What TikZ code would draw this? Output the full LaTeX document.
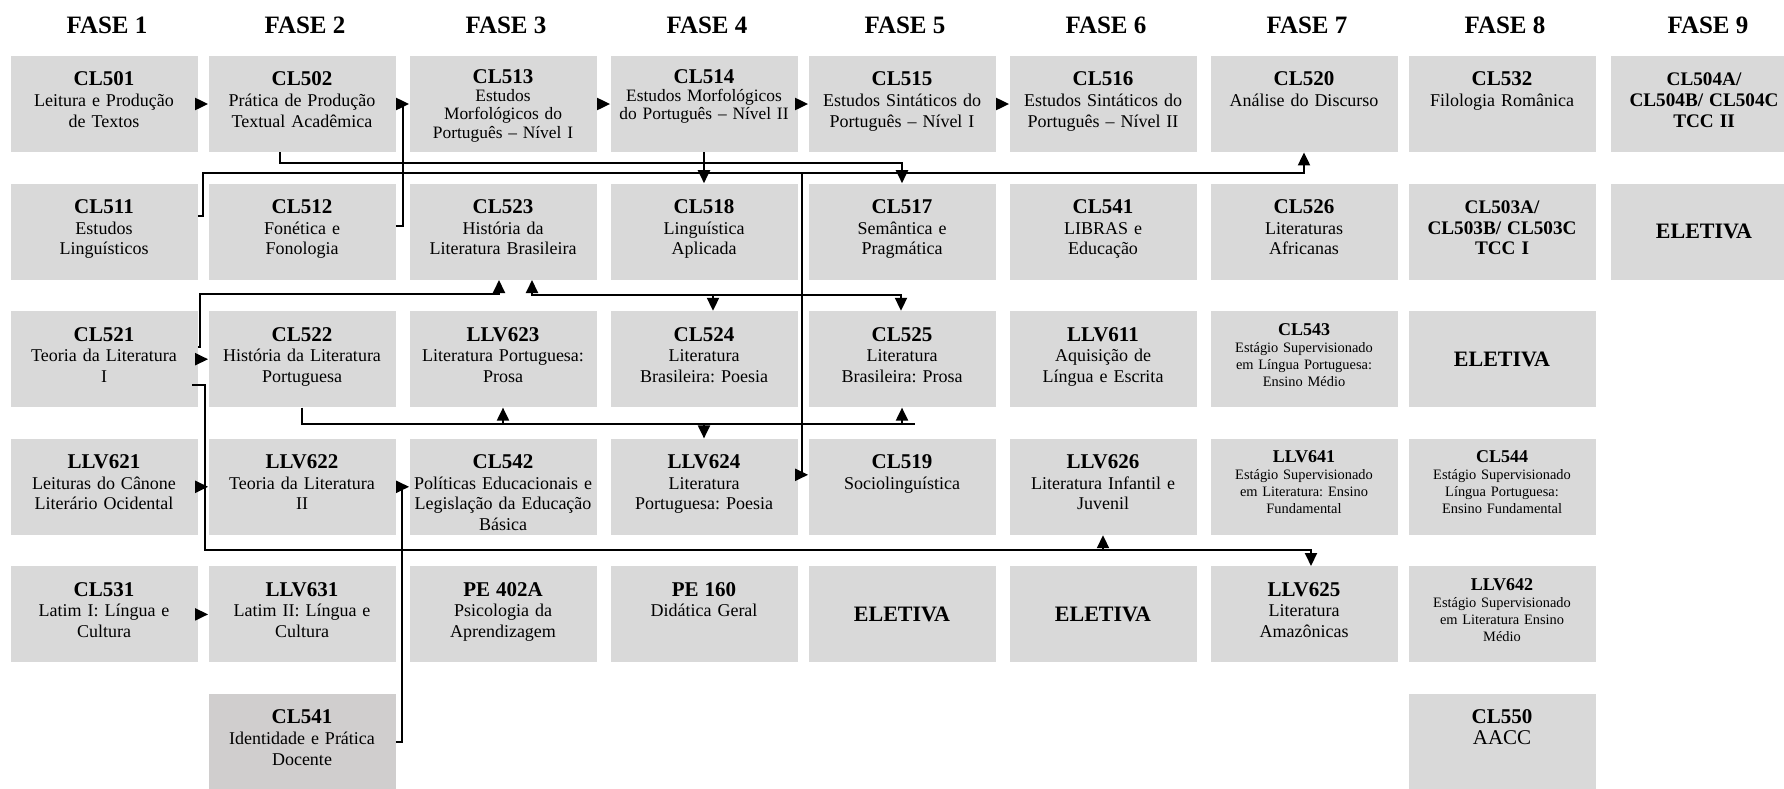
\documentclass[tikz,border=0pt]{standalone}
\usepackage{fontspec}
\setmainfont{Liberation Serif}
\usetikzlibrary{arrows.meta}
\definecolor{boxgray}{HTML}{D9D9D9}
\definecolor{boxgrayb}{HTML}{D0CECE}
\newcommand{\cod}[1]{{\fontsize{10.5}{10.3}\selectfont\bfseries #1}}
\newcommand{\codsm}[1]{{\fontsize{9}{8.5}\selectfont\bfseries #1}}
\newcommand{\codtcc}[1]{{\fontsize{9.6}{10.3}\selectfont\bfseries #1}}
\frenchspacing

\begin{document}
\begin{tikzpicture}[x=0.5pt,y=-0.5pt]
    \tikzstyle{every node}+=[inner sep=0pt]
    \tikzstyle{course}=[fill=boxgray, text width=92pt, align=center, inner xsep=0.75pt, text height=14.9pt, text depth=33.1pt, font=\fontsize{9}{10.3}\selectfont]
    \tikzstyle{smallcourse}=[course, font=\fontsize{7.2}{8.5}\selectfont, text height=12pt, text depth=36pt]
    \tikzstyle{tightcourse}=[course, font=\fontsize{8.7}{9.2}\selectfont, text height=13.5pt, text depth=34.5pt]
    \tikzstyle{eletiva}=[fill=boxgray, minimum width=93.5pt, minimum height=48pt, font=\fontsize{11}{12}\selectfont\bfseries]
    \tikzstyle{fase}=[anchor=base, font=\fontsize{12.5}{14}\selectfont\bfseries]
    \tikzstyle{link}=[line width=1pt]
    \tikzstyle{arr}=[link, -{Triangle[length=6.5pt,width=6pt]}]
    \tikzstyle{arrs}=[link, {Triangle[length=6.5pt,width=6pt]}-{Triangle[length=6.5pt,width=6pt]}]
    \useasboundingbox (0,0) rectangle (1784,788);

    % fases
    \node[fase] (f1) at (107,33) {FASE 1};
    \node[fase] (f2) at (305,33) {FASE 2};
    \node[fase] (f3) at (506,33) {FASE 3};
    \node[fase] (f4) at (707,33) {FASE 4};
    \node[fase] (f5) at (905,33) {FASE 5};
    \node[fase] (f6) at (1106,33) {FASE 6};
    \node[fase] (f7) at (1307,33) {FASE 7};
    \node[fase] (f8) at (1505,33) {FASE 8};
    \node[fase] (f9) at (1708,33) {FASE 9};

    % linha 1
    \node[course] (cl501) at (104,104) {\cod{CL501}\\Leitura e Produção\\de Textos};
    \node[course] (cl502) at (302,104) {\cod{CL502}\\Prática de Produção\\Textual Acadêmica};
    \node[tightcourse] (cl513) at (503,104) {\cod{CL513}\\Estudos\\Morfológicos do\\Português – Nível I};
    \node[tightcourse] (cl514) at (704,104) {\cod{CL514}\\Estudos Morfológicos\\do Português – Nível II};
    \node[course] (cl515) at (902,104) {\cod{CL515}\\Estudos Sintáticos do\\Português – Nível I};
    \node[course] (cl516) at (1103,104) {\cod{CL516}\\Estudos Sintáticos do\\Português – Nível II};
    \node[course] (cl520) at (1304,104) {\cod{CL520}\\Análise do Discurso};
    \node[course] (cl532) at (1502,104) {\cod{CL532}\\Filologia Românica};
    \node[course] (cl504) at (1704,104) {\codtcc{CL504A/}\\\codtcc{CL504B/ CL504C}\\\codtcc{TCC II}};

    % linha 2
    \node[course] (cl511) at (104,231.6) {\cod{CL511}\\Estudos\\Linguísticos};
    \node[course] (cl512) at (302,231.6) {\cod{CL512}\\Fonética e\\Fonologia};
    \node[course] (cl523) at (503,231.6) {\cod{CL523}\\História da\\Literatura Brasileira};
    \node[course] (cl518) at (704,231.6) {\cod{CL518}\\Linguística\\Aplicada};
    \node[course] (cl517) at (902,231.6) {\cod{CL517}\\Semântica e\\Pragmática};
    \node[course] (cl541) at (1103,231.6) {\cod{CL541}\\LIBRAS e\\Educação};
    \node[course] (cl526) at (1304,231.6) {\cod{CL526}\\Literaturas\\Africanas};
    \node[course] (cl503) at (1502,231.6) {\codtcc{CL503A/}\\\codtcc{CL503B/ CL503C}\\\codtcc{TCC I}};
    \node[eletiva] (el9) at (1704,231.6) {ELETIVA};

    % linha 3
    \node[course] (cl521) at (104,359.2) {\cod{CL521}\\Teoria da Literatura\\I};
    \node[course] (cl522) at (302,359.2) {\cod{CL522}\\História da Literatura\\Portuguesa};
    \node[course] (llv623) at (503,359.2) {\cod{LLV623}\\Literatura Portuguesa:\\Prosa};
    \node[course] (cl524) at (704,359.2) {\cod{CL524}\\Literatura\\Brasileira: Poesia};
    \node[course] (cl525) at (902,359.2) {\cod{CL525}\\Literatura\\Brasileira: Prosa};
    \node[course] (llv611) at (1103,359.2) {\cod{LLV611}\\Aquisição de\\Língua e Escrita};
    \node[smallcourse] (cl543) at (1304,359.2) {\codsm{CL543}\\Estágio Supervisionado\\em Língua Portuguesa:\\Ensino Médio};
    \node[eletiva] (el8) at (1502,359.2) {ELETIVA};

    % linha 4
    \node[course] (llv621) at (104,486.8) {\cod{LLV621}\\Leituras do Cânone\\Literário Ocidental};
    \node[course] (llv622) at (302,486.8) {\cod{LLV622}\\Teoria da Literatura\\II};
    \node[course] (cl542) at (503,486.8) {\cod{CL542}\\Políticas Educacionais e\\Legislação da Educação\\Básica};
    \node[course] (llv624) at (704,486.8) {\cod{LLV624}\\Literatura\\Portuguesa: Poesia};
    \node[course] (cl519) at (902,486.8) {\cod{CL519}\\Sociolinguística};
    \node[course] (llv626) at (1103,486.8) {\cod{LLV626}\\Literatura Infantil e\\Juvenil};
    \node[smallcourse] (llv641) at (1304,486.8) {\codsm{LLV641}\\Estágio Supervisionado\\em Literatura: Ensino\\Fundamental};
    \node[smallcourse] (cl544) at (1502,486.8) {\codsm{CL544}\\Estágio Supervisionado\\Língua Portuguesa:\\Ensino Fundamental};

    % linha 5
    \node[course] (cl531) at (104,614.4) {\cod{CL531}\\Latim I: Língua e\\Cultura};
    \node[course] (llv631) at (302,614.4) {\cod{LLV631}\\Latim II: Língua e\\Cultura};
    \node[course] (pe402) at (503,614.4) {\cod{PE 402A}\\Psicologia da\\Aprendizagem};
    \node[course] (pe160) at (704,614.4) {\cod{PE 160}\\Didática Geral};
    \node[eletiva] (el5) at (902,614.4) {ELETIVA};
    \node[eletiva] (el6) at (1103,614.4) {ELETIVA};
    \node[course] (llv625) at (1304,614.4) {\cod{LLV625}\\Literatura\\Amazônicas};
    \node[smallcourse] (llv642) at (1502,614.4) {\codsm{LLV642}\\Estágio Supervisionado\\em Literatura Ensino\\Médio};

    % linha 6
    \node[course, fill=boxgrayb] (cl541d) at (302,742) {\cod{CL541}\\Identidade e Prática\\Docente};
    \node[course] (cl550) at (1502,742) {\cod{CL550}\\{\fontsize{10.5}{10.3}\selectfont AACC}};

    % pontos de passagem
    \coordinate (lnA) at (0,163);
    \coordinate (jB) at (203,173);
    \coordinate (jS) at (802,173);
    \coordinate (jC) at (200,294);
    \coordinate (b1) at (532,295);
    \coordinate (b2) at (901,295);
    \coordinate (c524) at ([xshift=4.5pt]cl524.north);
    \coordinate (d1) at (915,424);
    \coordinate (e1) at (205,550);

    % pre-requisitos
    \draw[arr] (cl501) -- (cl502);
    \draw[arr] (cl513) -- (cl514);
    \draw[arr] (cl514) -- (cl515);
    \draw[arr] (cl515) -- (cl516);
    \draw[arr] (cl521) -- (cl522);
    \draw[arr] (cl531) -- (llv631);
    \draw[arr] (cl514) -- (cl518);
    \draw[arr] ([yshift=3pt]cl512.east) -- ++(7,0) |- (cl513.west);
    \draw[arr] ([xshift=-11pt]cl502.south) |- (lnA -| cl517.north) -- (cl517.north);
    \draw[arr] ([yshift=8pt]cl511.east) -| (jB) -| (cl520.south);
    \draw[arr] (jS) |- ([yshift=6pt]cl519.west);
    \draw[arr] ([yshift=6pt]cl521.east) -| (jC) -| ([xshift=-2pt]cl523.south);
    \draw[arrs] (b1 |- cl523.south) |- (b2) -- (b2 |- cl525.north);
    \draw[arr] (c524 |- b1) -- (c524);
    \draw[link] (cl522.south) |- (d1);
    \draw[arr] (llv623.south |- d1) -- (llv623.south);
    \draw[arr] (llv624.north |- d1) -- (llv624.north);
    \draw[arr] (cl525.south |- d1) -- (cl525.south);
    \draw[arr] ([xshift=-3pt,yshift=-13pt]cl521.east) -| (e1) -| ([xshift=3.5pt]llv625.north);
    \draw[arr] (e1 |- llv622.west) -- (llv622.west);
    \draw[arr] (e1 -| llv626.south) -- (llv626.south);
    \draw[arr] (cl541d.east) -- ++(6,0) |- (cl542.west);
\end{tikzpicture}
\end{document}
